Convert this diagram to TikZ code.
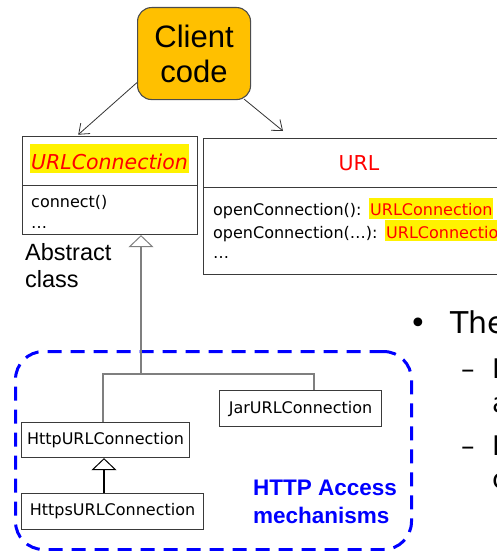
\documentclass[tikz,border=0pt]{standalone}
\usepackage{fontspec}
\usetikzlibrary{arrows.meta,calc}
\newfontfamily\vfont{DejaVu Sans}
\newfontfamily\afont{Liberation Sans}
\definecolor{clientfill}{HTML}{FFC000}
\definecolor{linegray}{HTML}{7F7F7F}
\definecolor{boxline}{HTML}{3A3A3A}
\definecolor{grpblue}{HTML}{0000FF}

\begin{document}
\begin{tikzpicture}[x=1pt,y=-1pt,
  umlbox/.style={draw=boxline, line width=1.1pt, inner sep=0pt, anchor=north west},
  clsname/.style={font=\vfont\fontsize{16}{19}\selectfont, inner sep=0pt},
  member/.style={anchor=base west, inner sep=0pt, font=\vfont\fontsize{16}{19}\selectfont},
  hl/.style={anchor=base west, fill=yellow, text=red, inner xsep=1pt, inner ysep=0pt,
             text height=18pt, text depth=3pt, font=\vfont\fontsize{16}{19}\selectfont},
  gen/.style={draw=linegray, line width=1.1pt,
              -{Triangle[open, length=12pt, width=25pt, line width=1pt]}},
  assoc/.style={draw=black!80, line width=0.8pt, -{Straight Barb[length=9pt, width=14pt]}},
  side/.style={anchor=base west, inner sep=0pt, font=\vfont\fontsize{27}{32}\selectfont},
]
\useasboundingbox (0,0) rectangle (497,551);
\clip (0,0) rectangle (497,551);

% client
\node[umlbox, minimum width=113pt, minimum height=92pt, rounded corners=14pt,
      fill=clientfill, draw=black!70, align=center,
      font=\afont\fontsize{31}{35}\selectfont] (client) at (137,7) {Client\\code};

% abstract class URLConnection
\node[umlbox, minimum width=175pt, minimum height=49.3pt] (ucHead) at (21.7,135.7) {};
\node[umlbox, minimum width=175pt, minimum height=49pt] (ucBody) at (21.7,185) {};
\node[anchor=base, fill=yellow, text=red, inner sep=0pt, minimum width=159pt,
      text height=25pt, text depth=4pt,
      font=\vfont\itshape\fontsize{20.5}{24}\selectfont] (ucName) at (109.5,169) {URLConnection};
\node[member] (ucM1) at (31,207) {connect()};
\node[member] (ucM2) at (31,228) {…};
\node[anchor=base west, inner sep=0pt, font=\afont\fontsize{23.5}{27}\selectfont] (abs1) at (25,260) {Abstract};
\node[anchor=base west, inner sep=0pt, font=\afont\fontsize{23.5}{27}\selectfont] (abs2) at (25,287) {class};

% URL class
\node[umlbox, minimum width=320pt, minimum height=49pt] (urlHead) at (203,138) {};
\node[umlbox, minimum width=320pt, minimum height=87pt] (urlBody) at (203,187) {};
\node[anchor=base, inner sep=0pt, text=red, font=\vfont\fontsize{20.5}{24}\selectfont] (urlName) at (359,170.5) {URL};
\node[member] (urlM1) at (213,215.5) {openConnection():};
\node[hl] (urlR1) at (369,215.5) {URLConnection};
\node[member] (urlM2) at (213,238) {openConnection(…):};
\node[hl] (urlR2) at (385,238) {URLConnection};
\node[member] (urlM3) at (213,258) {…};

% associations from the client
\draw[assoc] ($(client.west)+(0,29)$) -- ($(ucHead.north west)+(56.5,-1)$);
\draw[assoc] ($(client.south east)+(-7,-1)$) -- ($(urlHead.north west)+(80,-7)$);

% HTTP access group
\node[umlbox, draw=grpblue, line width=3pt, dash pattern=on 14pt off 9pt,
      rounded corners=28pt, minimum width=396pt, minimum height=198pt] (grp) at (14,350) {};
\node[anchor=base west, inner sep=0pt, text=grpblue, font=\afont\bfseries\fontsize{22.5}{28}\selectfont] (grp1) at (253,495) {HTTP Access};
\node[anchor=base west, inner sep=0pt, text=grpblue, font=\afont\bfseries\fontsize{22.5}{28}\selectfont] (grp2) at (253,523) {mechanisms};

% subclasses
\node[umlbox, minimum width=162pt, minimum height=36pt, clsname] (jar) at (219,390) {JarURLConnection};
\node[umlbox, minimum width=168pt, minimum height=35pt, clsname] (http) at (21,422) {HttpURLConnection};
\node[umlbox, minimum width=182pt, minimum height=36pt, clsname] (https) at (21,493) {HttpsURLConnection};

% generalisation tree
\coordinate (trunk) at (141,374);
\coordinate (hx) at (103,374);
\coordinate (jx) at (314,374);
\draw[gen] (trunk) -- (trunk |- ucBody.south);
\draw[draw=linegray, line width=1.1pt] (hx |- http.north) -- (hx) -- (jx) -- (jx |- jar.north);
\coordinate (sx) at (104,480);
\draw[gen, draw=black] (sx |- https.north) -- (sx |- http.south);

% slide text at the right edge
\node[anchor=base, inner sep=0pt, font=\vfont\fontsize{30}{36}\selectfont] (bul) at (418,333) {•};
\node[anchor=base west, inner sep=0pt, font=\vfont\fontsize{30}{36}\selectfont] (the) at (450,333) {The};
\node[side] (d1) at (461,378) {–};
\node[side] (t1) at (492,378) {F};
\node[side] (t2) at (492,412) {a};
\node[side] (d2) at (461,455) {–};
\node[side] (t3) at (492,455) {H};
\node[side] (t4) at (492,488) {c};
\end{tikzpicture}
\end{document}
